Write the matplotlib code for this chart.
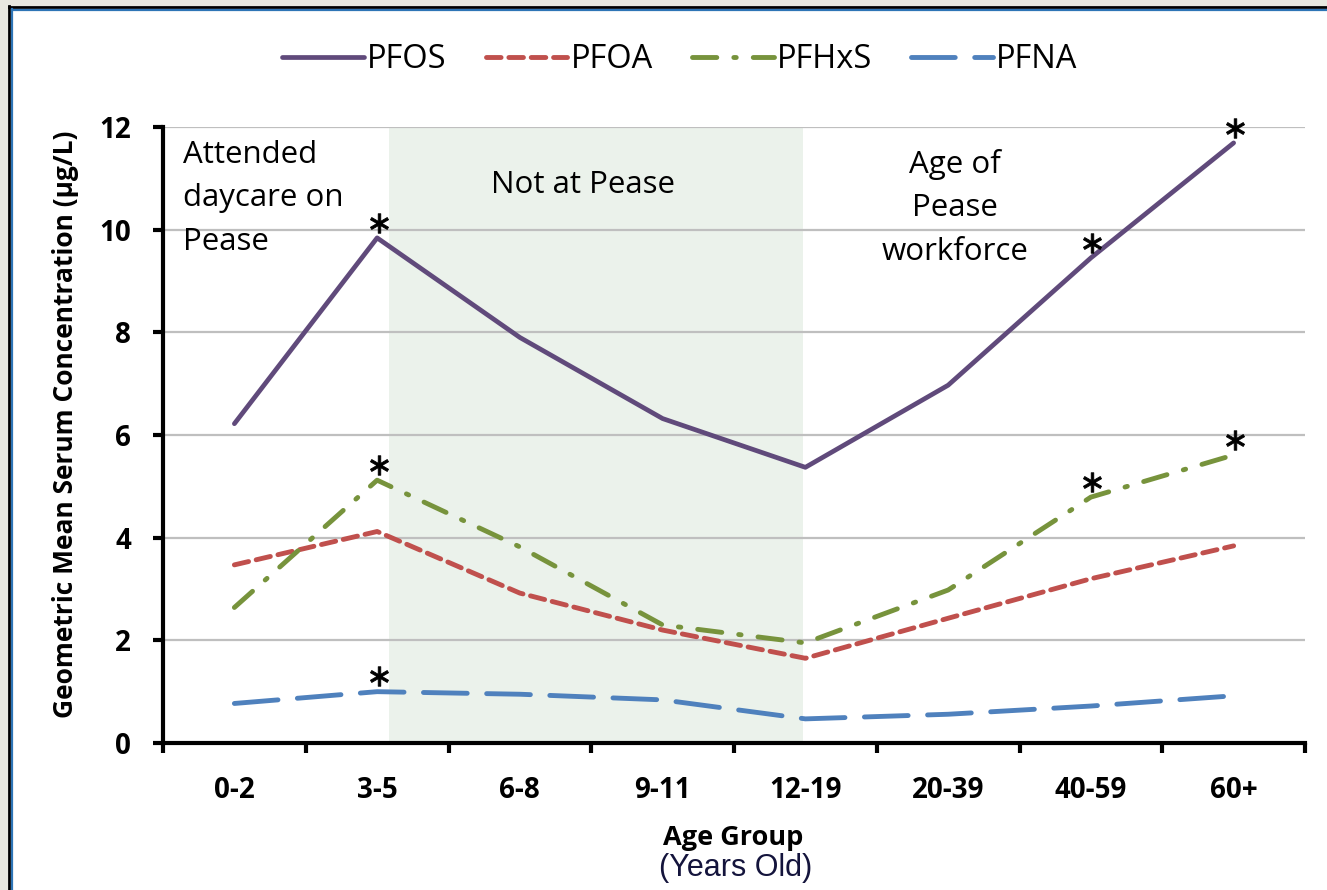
import matplotlib
matplotlib.use("Agg")
import matplotlib.pyplot as plt
from matplotlib.patches import Rectangle
from matplotlib.transforms import offset_copy

groups = ["0-2", "3-5", "6-8", "9-11", "12-19", "20-39", "40-59", "60+"]
pfos = [6.22, 9.84, 7.9, 6.32, 5.37, 6.97, 9.45, 11.69]
pfoa = [3.47, 4.12, 2.92, 2.2, 1.65, 2.43, 3.2, 3.84]
pfhxs = [2.64, 5.12, 3.82, 2.3, 1.95, 2.98, 4.79, 5.61]
pfna = [0.77, 1.0, 0.95, 0.84, 0.47, 0.56, 0.72, 0.92]

# significant differences marked with an asterisk: (series, group index)
stars = [("PFOS", 1), ("PFHxS", 1), ("PFNA", 1),
         ("PFOS", 6), ("PFHxS", 6), ("PFOS", 7), ("PFHxS", 7)]

plt.rcParams['font.family'] = ['Open Sans', 'DejaVu Sans']

fig = plt.figure(figsize=(13.27, 8.90), dpi=100)
fig.patch.set_facecolor("white")

# screenshot frame (top and left edges)
fig.patches.append(Rectangle((0, 1 - 6/890), 1, 6/890, transform=fig.transFigure,
                             facecolor="#E8E8E0", edgecolor="none", zorder=0))
fig.patches.append(Rectangle((0, 0), 8/1327, 1, transform=fig.transFigure,
                             facecolor="#E8E8E0", edgecolor="none", zorder=0))
fig.add_artist(plt.Line2D([9/1327, 9/1327], [0, 1 - 6/890], transform=fig.transFigure,
                          color="black", lw=2))
fig.add_artist(plt.Line2D([9/1327, 1], [1 - 7/890, 1 - 7/890], transform=fig.transFigure,
                          color="black", lw=2))
fig.add_artist(plt.Line2D([11.5/1327, 11.5/1327], [0, 1 - 9/890], transform=fig.transFigure,
                          color="#2E75B6", lw=1.6))
fig.add_artist(plt.Line2D([11.5/1327, 1], [1 - 9.5/890, 1 - 9.5/890], transform=fig.transFigure,
                          color="#2E75B6", lw=1.6))

ax = fig.add_axes([163/1327, 147/890, 1142/1327, 616/890])
x = list(range(len(groups)))

ax.axvspan(1.08, 3.98, color="#EBF2EB", zorder=0, lw=0)

series = {
    "PFOS": (pfos, dict(color="#604A7B", lw=3.4, ls="-")),
    "PFOA": (pfoa, dict(color="#C0504D", lw=3.5, ls=(0, (3.0, 1.6)))),
    "PFHxS": (pfhxs, dict(color="#77933C", lw=3.5, ls=(0, (5, 3.5, 0.5, 3.5)))),
    "PFNA": (pfna, dict(color="#4F81BD", lw=3.5, ls=(0, (9, 4)))),
}
for name, (vals, style) in series.items():
    ax.plot(x, vals, label=name, solid_capstyle="round", dash_capstyle="round",
            zorder=3, **style)

star_tr = offset_copy(ax.transData, fig=fig, x=1, y=11, units="points")
for name, i in stars:
    v = series[name][0][i]
    ax.plot(i, v, marker=r"$\ast$", ms=14, color="black", mew=0.6,
            transform=star_tr, zorder=4, clip_on=False)

ax.set_xlim(-0.5, 7.5)
ax.set_ylim(0, 12)
ax.set_yticks(range(0, 13, 2))
ax.set_xticks(x)
ax.set_xticklabels(groups)
ax.set_xticks([i - 0.5 for i in range(len(groups) + 1)], minor=True)
ax.tick_params(axis="x", which="major", length=0, pad=24)
ax.tick_params(axis="x", which="minor", length=7, width=3, direction="out")
ax.tick_params(axis="y", length=7, width=3, pad=16)
for lab in ax.get_xticklabels() + ax.get_yticklabels():
    lab.set_fontsize(20)
    lab.set_fontweight("bold")
ax.grid(axis="y", color="#BFBFBF", lw=1.6, zorder=1)
ax.set_axisbelow(True)
for s in ["top", "right"]:
    ax.spines[s].set_visible(False)
for s in ["left", "bottom"]:
    ax.spines[s].set_linewidth(3)
    ax.spines[s].set_zorder(5)

fig.text(66/1327, 1 - 424/890, "Geometric Mean Serum Concentration (µg/L)",
         rotation=90, ha="center", va="center", fontsize=19, fontweight="bold")
fig.text(733/1327, 1 - 838/890, "Age Group", ha="center", va="center",
         fontsize=19.5, fontweight="bold")
fig.text(736/1327, 1 - 868/890, "(Years Old)", ha="center", va="center",
         fontsize=22, family=["Liberation Sans", "DejaVu Sans"], color="#14143C")

ax.text(-0.36, 11.75, "Attended\ndaycare on\nPease", ha="left", va="top",
        fontsize=22.5, linespacing=1.58)
ax.text(2.44, 10.87, "Not at Pease", ha="center", va="center", fontsize=22.5)
ax.text(5.05, 11.57, "Age of\nPease\nworkforce", ha="center", va="top",
        fontsize=22.5, linespacing=1.58)

ax.legend(loc="center", bbox_to_anchor=(680/1327, 1 - 60/890), bbox_transform=fig.transFigure,
          ncol=4, frameon=False, fontsize=23.5, handlelength=2.5, handletextpad=0.1,
          columnspacing=1.2)

fig.savefig("out.png", dpi=100)
